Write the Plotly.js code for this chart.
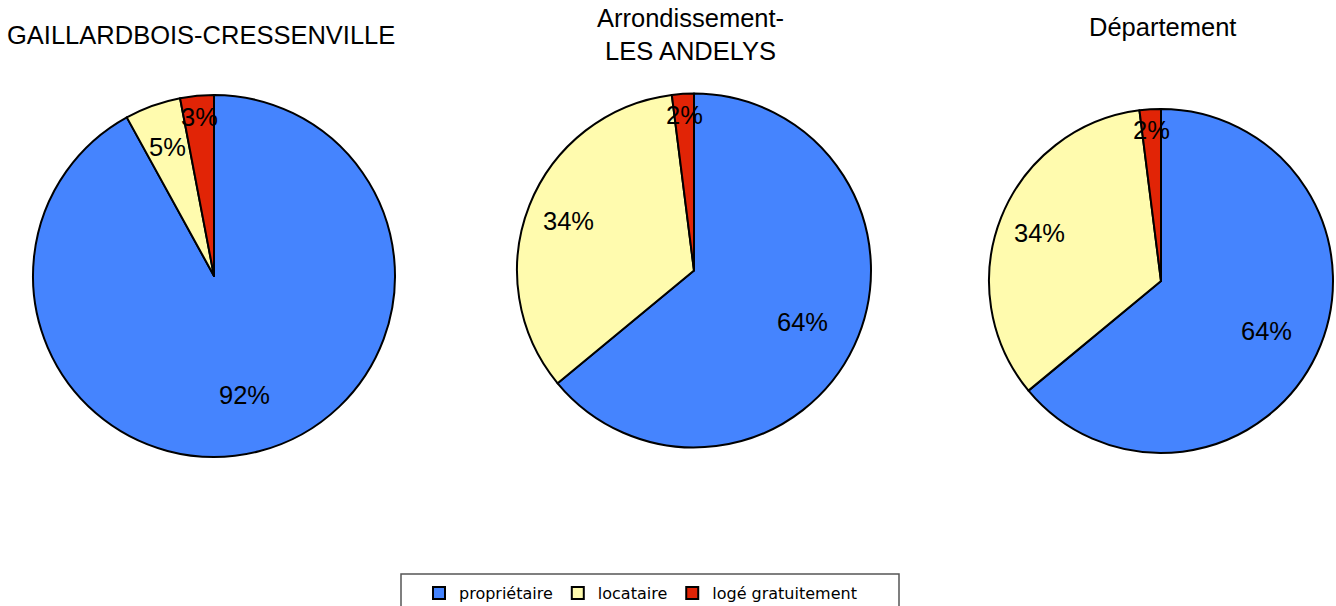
<!DOCTYPE html>
<html>
<head>
<meta charset="utf-8">
<script src="https://cdn.plot.ly/plotly-3.0.1.min.js"></script>
<style>html,body{margin:0;padding:0;background:#fff;}#chart{width:1336px;height:606px;}</style>
</head>
<body>
<div id="chart"></div>
<script>
// ---- data ----
const categories = ['propriétaire', 'locataire', 'logé gratuitement'];
const gaillardbois = [92, 5, 3];
const arrondissement = [64, 34, 2];
const departement = [64, 34, 2];
const pieTitles = ['GAILLARDBOIS-CRESSENVILLE', 'Arrondissement-<br>LES ANDELYS', 'Département'];
const seriesList = [gaillardbois, arrondissement, departement];

// ---- style ----
const W = 1336, H = 606;
const colors = ['#4584FE', '#FFFBAE', '#E12406'];
// pixel geometry of each pie: centre x, centre y (from top), radius
const geom = [
  {cx: 214, cy: 276, r: 181, tx: 201, ty: 35},
  {cx: 694, cy: 270.5, r: 177, tx: 690, ty: 34},
  {cx: 1161, cy: 281, r: 172, tx: 1162, ty: 27}
];
const labelRadius = [0.68, 0.76, 0.88];
const labelFont = {family: 'Liberation Sans, Arial, sans-serif', size: 25.5, color: '#000'};

const traces = [];
const annotations = [];
seriesList.forEach((vals, i) => {
  const g = geom[i];
  traces.push({
    type: 'pie',
    labels: categories,
    values: vals,
    sort: false,
    direction: 'clockwise',
    rotation: 0,
    textinfo: 'none',
    hoverinfo: 'label+percent',
    showlegend: i === 0,
    marker: {colors: colors, line: {color: '#000', width: 2}},
    domain: {
      x: [(g.cx - g.r) / W, (g.cx + g.r) / W],
      y: [(H - g.cy - g.r) / H, (H - g.cy + g.r) / H]
    }
  });
  const total = vals.reduce((a, b) => a + b, 0);
  let cum = 0;
  vals.forEach((v, k) => {
    const mid = (cum + v / 2) / total;
    cum += v;
    const th = mid * 2 * Math.PI;
    const rr = labelRadius[k] * g.r;
    const px = g.cx + Math.sin(th) * rr;
    const py = g.cy - Math.cos(th) * rr;
    annotations.push({
      x: px / W, y: 1 - py / H, xref: 'paper', yref: 'paper',
      xanchor: 'center', yanchor: 'middle', showarrow: false,
      text: Math.round(v / total * 100) + '%', font: labelFont
    });
  });
  annotations.push({
    x: g.tx / W, y: 1 - g.ty / H, xref: 'paper', yref: 'paper',
    xanchor: 'center', yanchor: 'middle', showarrow: false,
    text: pieTitles[i], font: labelFont
  });
});

const layout = {
  width: W, height: H,
  margin: {l: 0, r: 0, t: 0, b: 0, autoexpand: false},
  paper_bgcolor: '#fff',
  showlegend: true,
  legend: {
    orientation: 'h',
    x: 419 / W, xanchor: 'left',
    y: 1 - 576 / H, yanchor: 'top',
    font: {family: 'DejaVu Sans, sans-serif', size: 16, color: '#000'},
    bgcolor: 'rgba(0,0,0,0)', borderwidth: 0
  },
  shapes: [{
    type: 'rect', xref: 'paper', yref: 'paper',
    x0: 401 / W, x1: 899 / W, y0: -0.05, y1: 1 - 574 / H,
    line: {color: '#555', width: 1.5}, fillcolor: 'rgba(0,0,0,0)'
  }],
  annotations: annotations
};

Plotly.newPlot('chart', traces, layout, {displayModeBar: false, staticPlot: true});
</script>
</body>
</html>
